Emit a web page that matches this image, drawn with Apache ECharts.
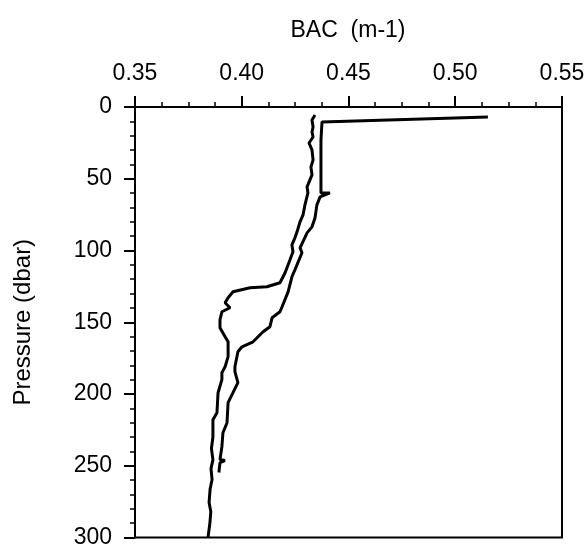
<!DOCTYPE html>
<html><head><meta charset="utf-8">
<script src="https://cdn.jsdelivr.net/npm/echarts@6/dist/echarts.min.js"></script>
<style>html,body{margin:0;padding:0;background:#fff}#c{width:588px;height:549px}</style>
</head><body><div id="c"></div>
<script>
const xTitle = 'BAC  (m-1)';
const yTitle = 'Pressure (dbar)';
// Profile A (right trace, with surface spike): [BAC, pressure]
const profileA = [
  [0.5153,7.0],[0.4376,10.4],[0.4371,23],[0.4371,47.3],[0.4371,59.9],[0.4413,59.9],[0.4367,62.6],
  [0.4352,68.2],[0.4343,77.3],[0.4329,83.5],[0.4306,87.7],[0.4273,98.1],[0.4282,101.6],
  [0.4249,113.5],[0.4235,118.3],[0.4217,128.8],[0.4189,139.2],[0.4179,142.7],[0.4142,146.9],
  [0.4132,153.1],[0.4100,156.6],[0.4053,163.6],[0.4001,167.1],[0.3982,170.5],[0.3968,181],
  [0.3968,184.4],[0.3982,192.1],[0.3959,199.1],[0.3936,206],[0.3931,220],[0.3912,227],
  [0.3907,236.7],[0.3898,245.7],[0.3921,246.4],[0.3898,247.8],[0.3893,254.7]
];
// Profile B (left trace): [BAC, pressure]
const profileB = [
  [0.4343,5.6],[0.4329,9],[0.4334,13.9],[0.4329,17.4],[0.4334,20.9],[0.4315,25.1],[0.4329,29.9],
  [0.4334,36.9],[0.4324,41.8],[0.4329,47.3],[0.4306,55.7],[0.4310,59.9],[0.4296,68.2],
  [0.4287,75.2],[0.4273,80],[0.4259,87],[0.4249,91.2],[0.4235,96.1],[0.4240,100.9],
  [0.4226,106.5],[0.4203,115.5],[0.4179,122.5],[0.4118,125.3],[0.4039,126],[0.3959,128.8],
  [0.3936,132.9],[0.3922,136.4],[0.3945,139.9],[0.3907,142.7],[0.3898,148.3],[0.3898,153.8],
  [0.3922,160.1],[0.3936,163.6],[0.3936,174],[0.3922,181],[0.3907,185.1],[0.3907,190],
  [0.3889,199.1],[0.3884,213],[0.3865,217.9],[0.3865,230],[0.3858,238],[0.3865,245.7],
  [0.3856,252],[0.3861,259.6],[0.3852,266],[0.3847,275.6],[0.3855,282],[0.3851,289.6],[0.3842,300]
];
const xTicks = {min:0.35, max:0.55, step:0.05};
const yTicks = {min:0, max:300, step:50};

const chart = echarts.init(document.getElementById('c'));
const font = 'Liberation Sans, Arial, Helvetica, sans-serif';
chart.setOption({
  animation:false,
  grid:{left:135, right:26, top:107, bottom:11, show:true, borderColor:'#000', borderWidth:2, containLabel:false},
  title:{text:xTitle, left:343, textAlign:'center', top:14, textStyle:{fontFamily:font, fontSize:23, fontWeight:'normal', color:'#000'}},
  xAxis:{type:'value', position:'top', min:xTicks.min, max:xTicks.max, interval:xTicks.step,
    axisLine:{lineStyle:{color:'#000', width:2}},
    axisTick:{show:true, length:11, lineStyle:{color:'#000', width:2}},
    minorTick:{show:true, splitNumber:4, length:5, lineStyle:{color:'#000', width:1.5}},
    splitLine:{show:false},
    axisLabel:{fontFamily:font, fontSize:23, color:'#000', margin:22, formatter:v=>v.toFixed(2)}},
  yAxis:{type:'value', inverse:true, min:yTicks.min, max:yTicks.max, interval:yTicks.step,
    name:yTitle, nameLocation:'middle', nameGap:100, nameRotate:90,
    nameTextStyle:{fontFamily:font, fontSize:24, color:'#000'},
    axisLine:{lineStyle:{color:'#000', width:2}},
    axisTick:{show:true, length:11, lineStyle:{color:'#000', width:2}},
    minorTick:{show:true, splitNumber:5, length:5, lineStyle:{color:'#000', width:1.5}},
    splitLine:{show:false},
    axisLabel:{fontFamily:font, fontSize:23, color:'#000', margin:23}},
  series:[
    {type:'line', data:profileA, showSymbol:false, lineStyle:{color:'#000', width:3}},
    {type:'line', data:profileB, showSymbol:false, lineStyle:{color:'#000', width:3}}
  ]
});
</script></body></html>
